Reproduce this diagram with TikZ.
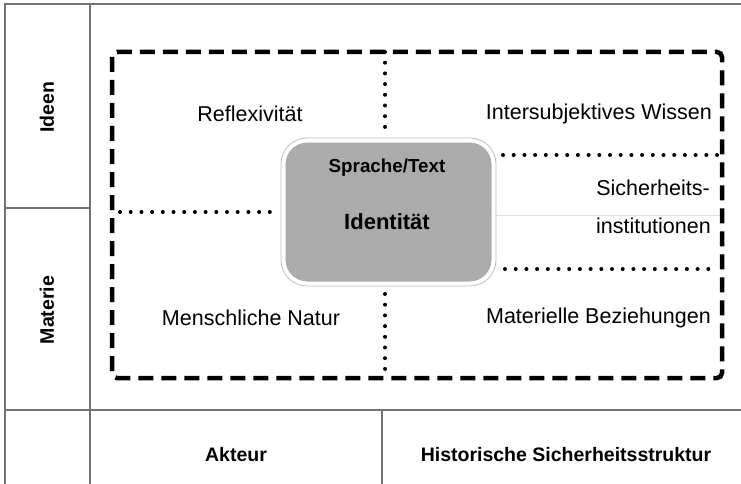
\documentclass[tikz,border=0pt]{standalone}
\usepackage{fontspec}
\setmainfont{Liberation Sans}
\begin{document}
\begin{tikzpicture}[x=1pt,y=-1pt,
  gridline/.style={draw=black!55,line width=1.2pt},
  dashbox/.style={draw=black,line width=4.5pt,dash pattern=on 15pt off 8pt,rounded corners=5pt},
  dotline/.style={draw=black,line width=4pt,line cap=round,dash pattern=on 0pt off 10.7pt},
  celltext/.style={font=\fontsize{21.5}{25}\selectfont,inner sep=0pt},
  axislabel/.style={font=\fontsize{19.5}{23}\selectfont\bfseries,inner sep=0pt},
  centerbox/.style={fill=black!33,draw=white,line width=3pt,rounded corners=23pt}]
\useasboundingbox (0,0) rectangle (741,484);
\fill[white] (0,0) rectangle (741,484);
% grid
\coordinate (tl) at (5,4);
\coordinate (tr) at (741,4);
\coordinate (bl) at (5,484);
\coordinate (ctop) at (90,4);
\coordinate (cbot) at (90,484);
\coordinate (ml) at (5,208);
\coordinate (mr) at (90,208);
\coordinate (hl) at (5,410);
\coordinate (hr) at (741,410);
\coordinate (vt) at (382,410);
\coordinate (vb) at (382,484);
\draw[gridline] (bl) -- (tl) -- (tr);
\draw[gridline] (ctop) -- (cbot);
\draw[gridline] (ml) -- (mr);
\draw[gridline] (hl) -- (hr);
\draw[gridline] (vt) -- (vb);
% faint line
\coordinate (fa) at (495,215);
\coordinate (fb) at (720,215);
\draw[draw=black!12,line width=0.8pt] (fa) -- (fb);
% dashed frame
\coordinate (d1) at (112,52);
\coordinate (d2) at (722,378);
\draw[dashbox] (d1) rectangle (d2);
% dotted lines
\coordinate (vt1) at (385,52);
\coordinate (vt2) at (385,136);
\coordinate (vb1) at (385,294);
\coordinate (vb2) at (385,378);
\coordinate (lh1) at (120,212);
\coordinate (lh2) at (274,212);
\coordinate (rh1) at (503,155);
\coordinate (rh2) at (718,155);
\coordinate (rl1) at (505,269);
\coordinate (rl2) at (718,269);
\draw[dotline] (vt1) -- (vt2);
\draw[dotline] (vb1) -- (vb2);
\draw[dotline] (lh1) -- (lh2);
\draw[dotline] (rh1) -- (rh2);
\draw[dotline] (rl1) -- (rl2);
% center box
\draw[draw=black!25,line width=0.8pt,rounded corners=26pt] (281,138) rectangle (496,286);
\draw[centerbox] (284,141) rectangle (493,283);
\node[font=\fontsize{18.8}{22}\selectfont\bfseries,inner sep=0pt] (spr) at (387,168) {Sprache/Text};
\node[font=\fontsize{22}{26}\selectfont\bfseries,inner sep=0pt] (ide) at (387,222) {Identität};
% cell texts
\node[celltext] (refl) at (250,114) {Reflexivität};
\node[celltext,anchor=east] (inter) at (712,114) {Intersubjektives Wissen};
\node[celltext,anchor=east] (sich) at (710,188) {Sicherheits-};
\node[celltext,anchor=east] (inst) at (711,226) {institutionen};
\node[celltext] (mensch) at (251,318) {Menschliche Natur};
\node[celltext,anchor=east] (mat) at (711,318) {Materielle Beziehungen};
% axis labels
\node[axislabel,rotate=90] (ideen) at (47,107) {Ideen};
\node[axislabel,rotate=90] (materie) at (47,310) {Materie};
\node[axislabel] (akteur) at (236,455) {Akteur};
\node[axislabel] (hist) at (566,455) {Historische Sicherheitsstruktur};
\end{tikzpicture}
\end{document}
